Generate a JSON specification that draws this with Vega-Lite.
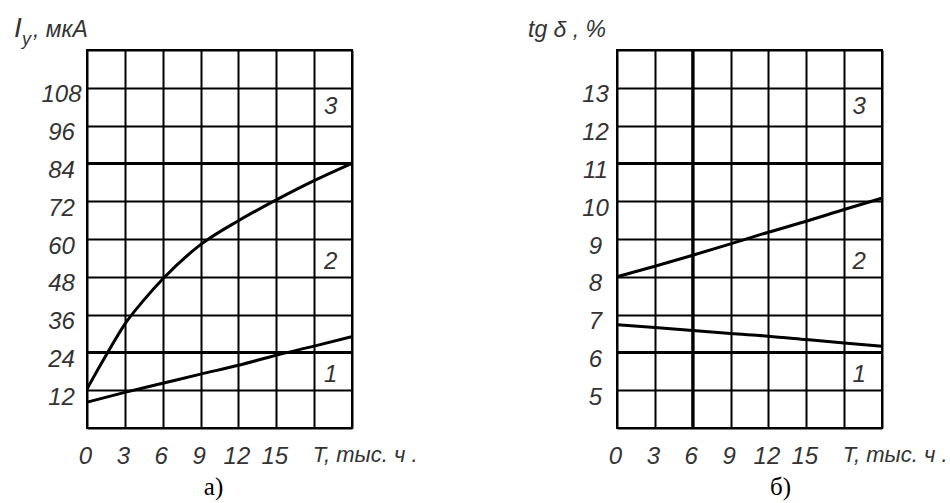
{
  "$schema": "https://vega.github.io/schema/vega-lite/v6.json",
  "autosize": {"type": "pad"},
  "padding": {"left": 13, "top": 14, "right": 0, "bottom": 0},
  "background": "white",
  "bounds": "flush",
  "spacing": 265,
  "config": {
    "view": {"stroke": "black", "strokeWidth": 2},
    "axis": {
      "grid": true,
      "gridColor": "black",
      "gridWidth": 2,
      "gridOpacity": 1,
      "domain": false,
      "ticks": false,
      "title": null,
      "tickCount": 40,
      "format": "d",
      "labelFont": "Liberation Sans",
      "labelFontStyle": "italic",
      "labelFontSize": 24,
      "labelColor": "#333",
      "labelFlush": false,
      "labelOverlap": false
    },
    "text": {
      "font": "Liberation Sans",
      "fontStyle": "italic",
      "fontSize": 24,
      "color": "#333"
    }
  },
  "datasets": {
    "leakage": [
      {"T": 0, "I": 8.2, "curve": "1"},
      {"T": 3, "I": 11.3, "curve": "1"},
      {"T": 6, "I": 14.2, "curve": "1"},
      {"T": 9, "I": 17.1, "curve": "1"},
      {"T": 12, "I": 19.9, "curve": "1"},
      {"T": 15, "I": 23.1, "curve": "1"},
      {"T": 18, "I": 26, "curve": "1"},
      {"T": 21, "I": 29, "curve": "1"},
      {"T": 0, "I": 12.4, "curve": "2"},
      {"T": 1.5, "I": 23, "curve": "2"},
      {"T": 3, "I": 33, "curve": "2"},
      {"T": 4.5, "I": 40.6, "curve": "2"},
      {"T": 6, "I": 47.3, "curve": "2"},
      {"T": 9, "I": 58.2, "curve": "2"},
      {"T": 12, "I": 65.8, "curve": "2"},
      {"T": 15, "I": 72.4, "curve": "2"},
      {"T": 18, "I": 78.5, "curve": "2"},
      {"T": 21, "I": 84, "curve": "2"}
    ],
    "loss": [
      {"T": 0, "tg": 6.73, "curve": "1"},
      {"T": 3, "tg": 6.66, "curve": "1"},
      {"T": 6, "tg": 6.58, "curve": "1"},
      {"T": 9, "tg": 6.5, "curve": "1"},
      {"T": 12, "tg": 6.43, "curve": "1"},
      {"T": 15, "tg": 6.34, "curve": "1"},
      {"T": 18, "tg": 6.25, "curve": "1"},
      {"T": 21, "tg": 6.16, "curve": "1"},
      {"T": 0, "tg": 8.0, "curve": "2"},
      {"T": 3, "tg": 8.28, "curve": "2"},
      {"T": 6, "tg": 8.57, "curve": "2"},
      {"T": 9, "tg": 8.87, "curve": "2"},
      {"T": 12, "tg": 9.18, "curve": "2"},
      {"T": 15, "tg": 9.47, "curve": "2"},
      {"T": 18, "tg": 9.78, "curve": "2"},
      {"T": 21, "tg": 10.08, "curve": "2"}
    ],
    "zone_bounds_a": [{"I": 24}, {"I": 84}],
    "zone_bounds_b": [{"tg": 6}, {"tg": 11}],
    "marker_b": [{"T": 6}],
    "zone_labels_a": [
      {"T": 19.3, "I": 102, "zone": "3"},
      {"T": 19.3, "I": 52.8, "zone": "2"},
      {"T": 19.3, "I": 16.8, "zone": "1"}
    ],
    "zone_labels_b": [
      {"T": 19.2, "tg": 12.5, "zone": "3"},
      {"T": 19.2, "tg": 8.4, "zone": "2"},
      {"T": 19.2, "tg": 5.4, "zone": "1"}
    ]
  },
  "hconcat": [
    {
      "width": 265,
      "height": 378,
      "layer": [
        {
          "data": {"name": "leakage"},
          "mark": {"type": "line", "color": "black", "strokeWidth": 3, "interpolate": "monotone"},
          "encoding": {
            "x": {
              "field": "T", "type": "quantitative",
              "scale": {"domain": [0, 21], "nice": false, "zero": false},
              "axis": {
                "values": [0, 3, 6, 9, 12, 15, 18, 21],
                "tickCount": 40,
                "format": "d",
                "labelExpr": "datum.value == 18 ? 'T, тыс. ч .' : (datum.value == 21 ? '' : datum.label)",
                "labelAlign": {"condition": {"test": "datum.value == 18", "value": "left"}, "value": "center"},
                "labelFontSize": {"condition": {"test": "datum.value == 18", "value": 22}, "value": 24},
                "labelBaseline": "top",
                "labelPadding": 16,
                "labelOffset": -2,
                "labelOverlap": false,
                "labelFlush": false
              }
            },
            "y": {
              "field": "I", "type": "quantitative",
              "scale": {"domain": [0, 120], "nice": false},
              "axis": {
                "values": [0, 12, 24, 36, 48, 60, 72, 84, 96, 108, 120],
                "tickCount": 40,
                "format": "d",
                "labelExpr": "datum.value == 0 || datum.value == 120 ? '' : datum.label",
                "labelAlign": "center",
                "labelBaseline": "middle",
                "labelPadding": 26,
                "labelOffset": 7,
                "labelOverlap": false
              }
            },
            "detail": {"field": "curve"}
          }
        },
        {
          "data": {"name": "zone_bounds_a"},
          "mark": {"type": "rule", "color": "black", "strokeWidth": 3},
          "encoding": {"y": {"field": "I", "type": "quantitative"}}
        },
        {
          "data": {"name": "zone_labels_a"},
          "mark": {"type": "text", "align": "center", "baseline": "middle"},
          "encoding": {
            "x": {"field": "T", "type": "quantitative"},
            "y": {"field": "I", "type": "quantitative"},
            "text": {"field": "zone"}
          }
        },
        {
          "data": {"values": [{"label": "I"}]},
          "mark": {"type": "text", "align": "left", "baseline": "alphabetic", "dx": -73, "dy": -13, "fontSize": 28},
          "encoding": {
            "x": {"datum": 0, "type": "quantitative"},
            "y": {"datum": 120, "type": "quantitative"},
            "text": {"field": "label"}
          }
        },
        {
          "data": {"values": [{"label": "у"}]},
          "mark": {"type": "text", "align": "left", "baseline": "alphabetic", "dx": -65, "dy": -5, "fontSize": 18},
          "encoding": {
            "x": {"datum": 0, "type": "quantitative"},
            "y": {"datum": 120, "type": "quantitative"},
            "text": {"field": "label"}
          }
        },
        {
          "data": {"values": [{"label": ", мкА"}]},
          "mark": {"type": "text", "align": "left", "baseline": "alphabetic", "dx": -54, "dy": -13, "fontSize": 23},
          "encoding": {
            "x": {"datum": 0, "type": "quantitative"},
            "y": {"datum": 120, "type": "quantitative"},
            "text": {"field": "label"}
          }
        },
        {
          "data": {"values": [{"label": "а)"}]},
          "mark": {"type": "text", "align": "center", "baseline": "alphabetic", "dx": -6, "dy": 67, "font": "Liberation Serif", "fontStyle": "normal", "fontSize": 25, "color": "black"},
          "encoding": {
            "x": {"datum": 10.5, "type": "quantitative"},
            "y": {"datum": 0, "type": "quantitative"},
            "text": {"field": "label"}
          }
        }
      ]
    },
    {
      "width": 265,
      "height": 378,
      "layer": [
        {
          "data": {"name": "loss"},
          "mark": {"type": "line", "color": "black", "strokeWidth": 3, "interpolate": "monotone"},
          "encoding": {
            "x": {
              "field": "T", "type": "quantitative",
              "scale": {"domain": [0, 21], "nice": false, "zero": false},
              "axis": {
                "values": [0, 3, 6, 9, 12, 15, 18, 21],
                "tickCount": 40,
                "format": "d",
                "labelExpr": "datum.value == 18 ? 'T, тыс. ч .' : (datum.value == 21 ? '' : datum.label)",
                "labelAlign": {"condition": {"test": "datum.value == 18", "value": "left"}, "value": "center"},
                "labelFontSize": {"condition": {"test": "datum.value == 18", "value": 22}, "value": 24},
                "labelBaseline": "top",
                "labelPadding": 16,
                "labelOffset": -2,
                "labelOverlap": false,
                "labelFlush": false
              }
            },
            "y": {
              "field": "tg", "type": "quantitative",
              "scale": {"domain": [4, 14], "nice": false, "zero": false},
              "axis": {
                "values": [4, 5, 6, 7, 8, 9, 10, 11, 12, 13, 14],
                "tickCount": 40,
                "format": "d",
                "labelExpr": "datum.value == 4 || datum.value == 14 ? '' : datum.label",
                "labelAlign": "center",
                "labelBaseline": "middle",
                "labelPadding": 22,
                "labelOffset": 7,
                "labelOverlap": false
              }
            },
            "detail": {"field": "curve"}
          }
        },
        {
          "data": {"name": "zone_bounds_b"},
          "mark": {"type": "rule", "color": "black", "strokeWidth": 3},
          "encoding": {"y": {"field": "tg", "type": "quantitative"}}
        },
        {
          "data": {"name": "marker_b"},
          "mark": {"type": "rule", "color": "black", "strokeWidth": 3},
          "encoding": {"x": {"field": "T", "type": "quantitative"}}
        },
        {
          "data": {"name": "zone_labels_b"},
          "mark": {"type": "text", "align": "center", "baseline": "middle"},
          "encoding": {
            "x": {"field": "T", "type": "quantitative"},
            "y": {"field": "tg", "type": "quantitative"},
            "text": {"field": "zone"}
          }
        },
        {
          "data": {"values": [{"label": "tg δ , %"}]},
          "mark": {"type": "text", "align": "left", "baseline": "alphabetic", "dx": -89, "dy": -13, "fontSize": 23},
          "encoding": {
            "x": {"datum": 0, "type": "quantitative"},
            "y": {"datum": 14, "type": "quantitative"},
            "text": {"field": "label"}
          }
        },
        {
          "data": {"values": [{"label": "б)"}]},
          "mark": {"type": "text", "align": "center", "baseline": "alphabetic", "dx": 31, "dy": 67, "font": "Liberation Serif", "fontStyle": "normal", "fontSize": 25, "color": "black"},
          "encoding": {
            "x": {"datum": 10.5, "type": "quantitative"},
            "y": {"datum": 4, "type": "quantitative"},
            "text": {"field": "label"}
          }
        }
      ]
    }
  ]
}
